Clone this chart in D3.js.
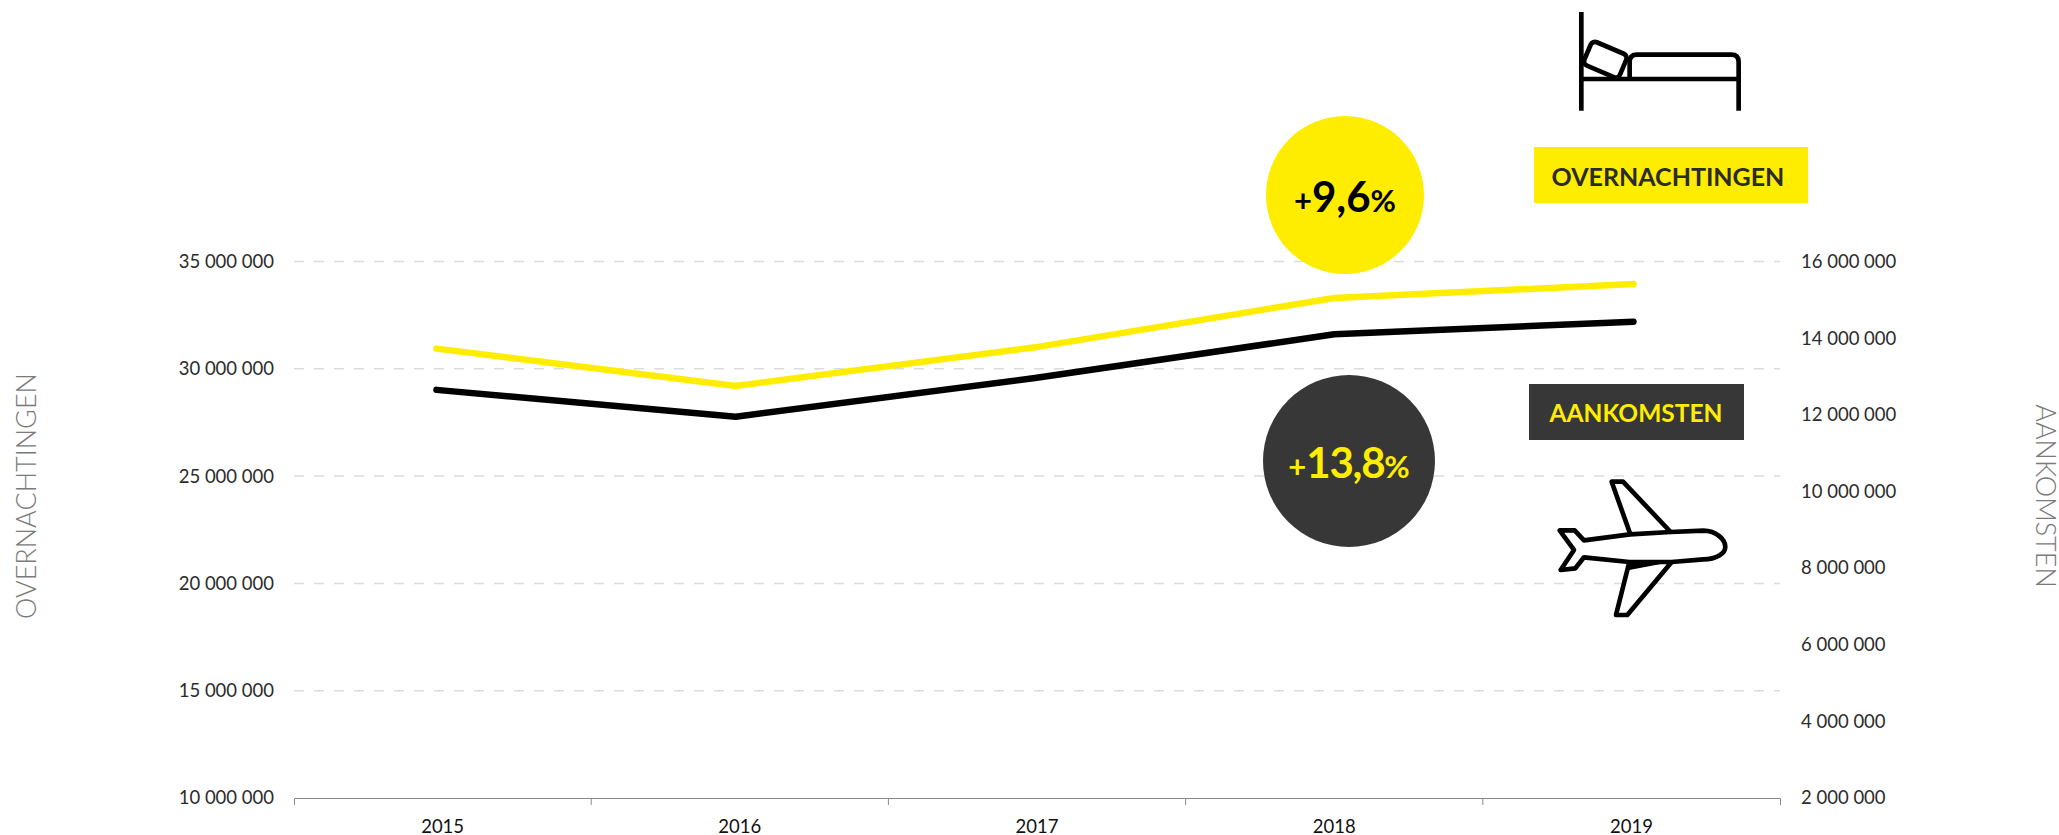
<!DOCTYPE html>
<html>
<head>
<meta charset="utf-8">
<script src="https://cdn.jsdelivr.net/npm/d3@7"></script>
<style>
  html, body { margin: 0; background: #fff; }
  svg { display: block; }
  text { font-family: Lato, "Open Sans", sans-serif; }
  .axis text { font-size: 18.5px; fill: #2b2b2b; }
  .axis .domain, .axis .tick line, .edge { stroke: #8a8a8a; stroke-width: 1; }
</style>
</head>
<body>
<div class="root"></div>
<script>
const years = ["2015", "2016", "2017", "2018", "2019"];
const overnachtingen = [30940000, 29200000, 31000000, 33300000, 33950000];
const aankomsten = [12650000, 11950000, 12960000, 14100000, 14430000];
const leftTicks = [10000000, 15000000, 20000000, 25000000, 30000000, 35000000];
const rightTicks = [2000000, 4000000, 6000000, 8000000, 10000000, 12000000, 14000000, 16000000];
const gridTicks = [15000000, 20000000, 25000000, 30000000, 35000000];

const width = 2059;
const height = 835;
const yellow = "#ffed00";
const dark = "#373737";

const svg = d3
  .select("div.root")
  .append("svg")
  .attr("width", width)
  .attr("height", height);

const plotLeft = 294;
const plotRight = 1780;
const plotTop = 261.5;
const plotBottom = 798;

const xband = d3.scaleBand().domain(years).range([plotLeft, plotRight]);
// the lines sit slightly off the band centres in the original
const xline = d3.scalePoint().domain(years).range([436.5, 1633.5]);
const yleft = d3.scaleLinear().domain([10000000, 35000000]).range([plotBottom, plotTop]);
const yright = d3.scaleLinear().domain([2000000, 16000000]).range([plotBottom, plotTop]);

const fmt = d3.formatLocale({ decimal: ",", thousands: " ", grouping: [3], currency: ["", ""] }).format(",");

svg
  .append("g")
  .selectAll("line")
  .data(gridTicks)
  .enter()
  .append("line")
  .attr("x1", plotLeft)
  .attr("x2", plotRight)
  .attr("y1", d => yleft(d))
  .attr("y2", d => yleft(d))
  .attr("stroke", "#dcdcdc")
  .attr("stroke-width", 1.5)
  .attr("stroke-dasharray", "10 10");

const xaxis = d3.axisBottom(xband).tickSizeInner(0).tickSizeOuter(7).tickPadding(22);
const gx = svg
  .append("g")
  .attr("class", "axis")
  .attr("transform", `translate(0,${plotBottom})`)
  .call(xaxis);
gx.selectAll("text").style("fill", "#111");
gx.selectAll(".edge")
  .data(years.slice(1))
  .enter()
  .append("line")
  .attr("class", "edge")
  .attr("x1", d => xband(d))
  .attr("x2", d => xband(d))
  .attr("y1", 0)
  .attr("y2", 7);

const yaxisL = d3.axisLeft(yleft).tickValues(leftTicks).tickFormat(fmt).tickSize(0).tickPadding(20);
svg
  .append("g")
  .attr("class", "axis")
  .attr("transform", `translate(${plotLeft},0)`)
  .call(yaxisL)
  .call(g => g.select(".domain").remove());

const yaxisR = d3.axisRight(yright).tickValues(rightTicks).tickFormat(fmt).tickSize(0).tickPadding(21);
svg
  .append("g")
  .attr("class", "axis")
  .attr("transform", `translate(${plotRight},0)`)
  .call(yaxisR)
  .call(g => g.select(".domain").remove());

const lineL = d3.line().x((d, i) => xline(years[i])).y(d => yleft(d));
const lineR = d3.line().x((d, i) => xline(years[i])).y(d => yright(d));

svg
  .append("path")
  .attr("d", lineL(overnachtingen))
  .attr("fill", "none")
  .attr("stroke", yellow)
  .attr("stroke-width", 6.5)
  .attr("stroke-linecap", "round")
  .attr("stroke-linejoin", "round");

svg
  .append("path")
  .attr("d", lineR(aankomsten))
  .attr("fill", "none")
  .attr("stroke", "#000")
  .attr("stroke-width", 6.5)
  .attr("stroke-linecap", "round")
  .attr("stroke-linejoin", "round");

// axis titles
svg
  .append("text")
  .attr("transform", "translate(36,496) rotate(-90)")
  .attr("text-anchor", "middle")
  .attr("fill", "#7a7a7a")
  .style("font-size", "27px")
  .style("font-weight", 300)
  .text("OVERNACHTINGEN");

svg
  .append("text")
  .attr("transform", "translate(2036,496) rotate(90)")
  .attr("text-anchor", "middle")
  .attr("fill", "#7a7a7a")
  .style("font-size", "27px")
  .style("font-weight", 300)
  .text("AANKOMSTEN");

// percentage circles
svg.append("circle").attr("cx", 1345).attr("cy", 195).attr("r", 79).attr("fill", yellow);
svg.append("circle").attr("cx", 1349).attr("cy", 461).attr("r", 86).attr("fill", dark);

function pct(x, y, fill, sign, num, spacing) {
  const t = svg
    .append("text")
    .attr("x", x)
    .attr("y", y)
    .attr("text-anchor", "middle")
    .attr("fill", fill)
    .style("font-weight", 700);
  t.append("tspan").style("font-size", "31px").text("+");
  t.append("tspan").style("font-size", "42px").style("letter-spacing", spacing).text(num);
  t.append("tspan").style("font-size", "31px").text(sign);
}
pct(1345, 212, "#000", "%", "9,6", "0px");
pct(1349, 478, yellow, "%", "13,8", "-1.2px");

// labels
svg.append("rect").attr("x", 1534).attr("y", 147).attr("width", 274).attr("height", 56).attr("fill", yellow);
svg
  .append("text")
  .attr("x", 1668)
  .attr("y", 186)
  .attr("text-anchor", "middle")
  .attr("fill", "#2b2b2b")
  .style("font-size", "25px")
  .style("font-weight", 700)
  .text("OVERNACHTINGEN");

svg.append("rect").attr("x", 1529).attr("y", 384).attr("width", 215).attr("height", 56).attr("fill", dark);
svg
  .append("text")
  .attr("x", 1636)
  .attr("y", 422)
  .attr("text-anchor", "middle")
  .attr("fill", yellow)
  .style("font-size", "24.5px")
  .style("font-weight", 700)
  .text("AANKOMSTEN");

// bed icon, drawn at 3x
const bed = svg
  .append("g")
  .attr("transform", "translate(1500,0) scale(0.3333)")
  .attr("fill", "none")
  .attr("stroke", "#000")
  .attr("stroke-width", 14);
bed.append("path").attr("d", "M244 36V332M244 237H716V332");
bed.append("path").attr("d", "M389 237V186Q389 164 411 164H694Q716 164 716 186V237");
bed
  .append("rect")
  .attr("x", -58)
  .attr("y", -38)
  .attr("width", 116)
  .attr("height", 76)
  .attr("rx", 14)
  .attr("transform", "translate(316,179) rotate(23)");

// plane icon, drawn at 3x
const plane = svg
  .append("g")
  .attr("transform", "translate(1500,370) scale(0.3333)")
  .attr("stroke", "#000")
  .attr("stroke-width", 14)
  .attr("stroke-linejoin", "round");
plane.append("path").attr("fill", "#fff").attr("d", "M391 493L335 335L369 335L512 486");
plane.append("path").attr("fill", "#fff").attr("d", "M515 576L382 735L348 735L388 576");
plane
  .append("path")
  .attr("fill", "#fff")
  .attr(
    "d",
    "M179 481L224 481L252 511L390 493L512 486L610 482C650 482 676 510 676 530C676 550 650 568 610 568L515 576L388 576L252 562L226 595L182 600L222 540Z"
  );
plane
  .append("path")
  .attr("stroke", "none")
  .attr("fill", "#000")
  .attr("d", "M388 574L514 576L388 600Z");
</script>
</body>
</html>
